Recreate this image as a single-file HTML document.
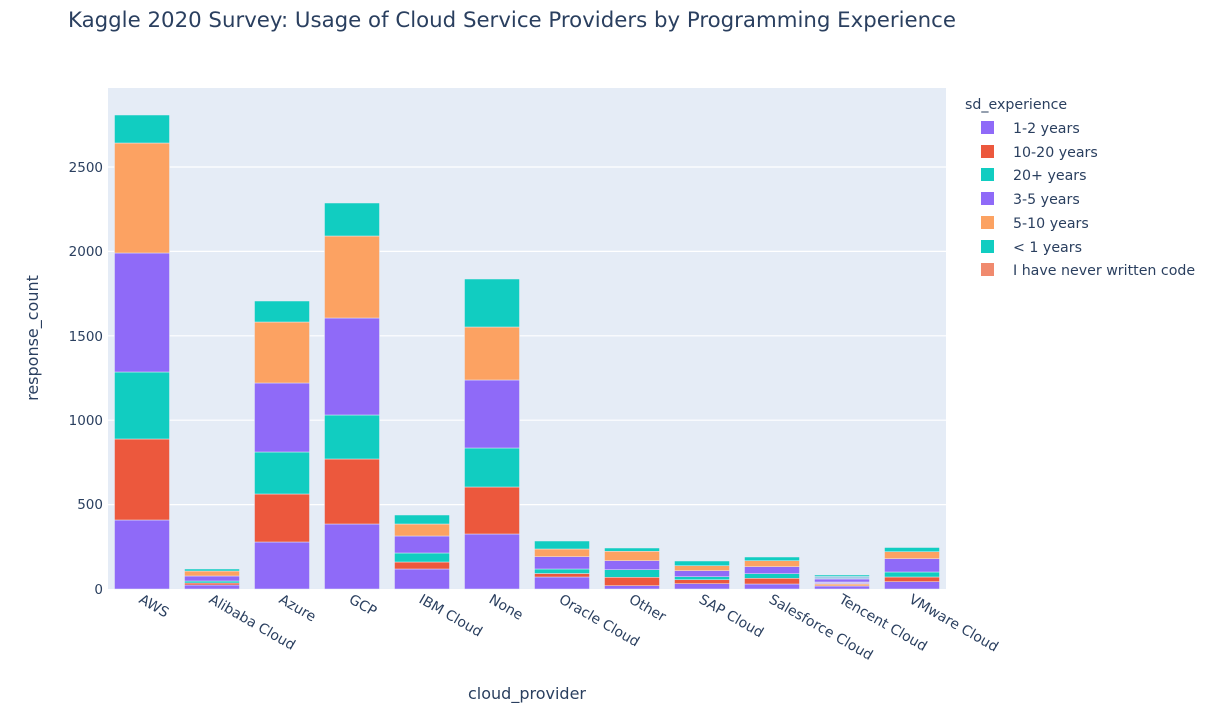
<!DOCTYPE html>
<html><head><meta charset="utf-8"><style>html,body{margin:0;padding:0;background:#fff}svg{display:block;font-family:"DejaVu Sans","Liberation Sans",sans-serif}</style></head><body>
<svg width="1219" height="716" xmlns="http://www.w3.org/2000/svg">
<text x="68" y="27" font-size="21.3" fill="#2a3f5f">Kaggle 2020 Survey: Usage of Cloud Service Providers by Programming Experience</text>
<rect x="108" y="88" width="838" height="501" fill="#e5ecf6"/>
<g stroke="#fff" stroke-width="1.2">
<line x1="108" x2="946" y1="504.6" y2="504.6"/><line x1="108" x2="946" y1="420.2" y2="420.2"/><line x1="108" x2="946" y1="335.8" y2="335.8"/><line x1="108" x2="946" y1="251.4" y2="251.4"/><line x1="108" x2="946" y1="167" y2="167"/>
</g>
<g font-size="13.5" fill="#2a3f5f" text-anchor="end">
<text x="103" y="594">0</text><text x="103" y="509">500</text><text x="103" y="425">1000</text><text x="103" y="341">1500</text><text x="103" y="256">2000</text><text x="103" y="172">2500</text>
</g>
<g stroke="#e5ecf6" stroke-width="0.5">
<rect x="114.5" y="520" width="55" height="69" fill="#8f6af8"/>
<rect x="114.5" y="439" width="55" height="81" fill="#ec583d"/>
<rect x="114.5" y="372" width="55" height="67" fill="#11cdc1"/>
<rect x="114.5" y="253" width="55" height="119" fill="#8f6af8"/>
<rect x="114.5" y="143" width="55" height="110" fill="#fca262"/>
<rect x="114.5" y="115" width="55" height="28" fill="#11cdc1"/>
<rect x="184.5" y="585" width="55" height="4" fill="#8f6af8"/>
<rect x="184.5" y="583" width="55" height="2" fill="#ec583d"/>
<rect x="184.5" y="581" width="55" height="2" fill="#11cdc1"/>
<rect x="184.5" y="576" width="55" height="5" fill="#8f6af8"/>
<rect x="184.5" y="571" width="55" height="5" fill="#fca262"/>
<rect x="184.5" y="569" width="55" height="2" fill="#11cdc1"/>
<rect x="254.5" y="542" width="55" height="47" fill="#8f6af8"/>
<rect x="254.5" y="494" width="55" height="48" fill="#ec583d"/>
<rect x="254.5" y="452" width="55" height="42" fill="#11cdc1"/>
<rect x="254.5" y="383" width="55" height="69" fill="#8f6af8"/>
<rect x="254.5" y="322" width="55" height="61" fill="#fca262"/>
<rect x="254.5" y="301" width="55" height="21" fill="#11cdc1"/>
<rect x="324.5" y="524" width="55" height="65" fill="#8f6af8"/>
<rect x="324.5" y="459" width="55" height="65" fill="#ec583d"/>
<rect x="324.5" y="415" width="55" height="44" fill="#11cdc1"/>
<rect x="324.5" y="318" width="55" height="97" fill="#8f6af8"/>
<rect x="324.5" y="236" width="55" height="82" fill="#fca262"/>
<rect x="324.5" y="203" width="55" height="33" fill="#11cdc1"/>
<rect x="394.5" y="569" width="55" height="20" fill="#8f6af8"/>
<rect x="394.5" y="562" width="55" height="7" fill="#ec583d"/>
<rect x="394.5" y="553" width="55" height="9" fill="#11cdc1"/>
<rect x="394.5" y="536" width="55" height="17" fill="#8f6af8"/>
<rect x="394.5" y="524" width="55" height="12" fill="#fca262"/>
<rect x="394.5" y="515" width="55" height="9" fill="#11cdc1"/>
<rect x="464.5" y="534" width="55" height="55" fill="#8f6af8"/>
<rect x="464.5" y="487" width="55" height="47" fill="#ec583d"/>
<rect x="464.5" y="448" width="55" height="39" fill="#11cdc1"/>
<rect x="464.5" y="380" width="55" height="68" fill="#8f6af8"/>
<rect x="464.5" y="327" width="55" height="53" fill="#fca262"/>
<rect x="464.5" y="279" width="55" height="48" fill="#11cdc1"/>
<rect x="534.5" y="577" width="55" height="12" fill="#8f6af8"/>
<rect x="534.5" y="573.5" width="55" height="3.5" fill="#ec583d"/>
<rect x="534.5" y="569" width="55" height="4.5" fill="#11cdc1"/>
<rect x="534.5" y="556.7" width="55" height="12.3" fill="#8f6af8"/>
<rect x="534.5" y="549" width="55" height="7.7" fill="#fca262"/>
<rect x="534.5" y="541" width="55" height="8" fill="#11cdc1"/>
<rect x="604.5" y="585.7" width="55" height="3.3" fill="#8f6af8"/>
<rect x="604.5" y="577.3" width="55" height="8.4" fill="#ec583d"/>
<rect x="604.5" y="569.7" width="55" height="7.6" fill="#11cdc1"/>
<rect x="604.5" y="560.7" width="55" height="9" fill="#8f6af8"/>
<rect x="604.5" y="551.3" width="55" height="9.4" fill="#fca262"/>
<rect x="604.5" y="548" width="55" height="3.3" fill="#11cdc1"/>
<rect x="674.5" y="583.7" width="55" height="5.3" fill="#8f6af8"/>
<rect x="674.5" y="579.7" width="55" height="4" fill="#ec583d"/>
<rect x="674.5" y="576.7" width="55" height="3" fill="#11cdc1"/>
<rect x="674.5" y="570.7" width="55" height="6" fill="#8f6af8"/>
<rect x="674.5" y="565.7" width="55" height="5" fill="#fca262"/>
<rect x="674.5" y="561" width="55" height="4.7" fill="#11cdc1"/>
<rect x="744.5" y="584" width="55" height="5" fill="#8f6af8"/>
<rect x="744.5" y="578.3" width="55" height="5.7" fill="#ec583d"/>
<rect x="744.5" y="573.7" width="55" height="4.6" fill="#11cdc1"/>
<rect x="744.5" y="566.7" width="55" height="7" fill="#8f6af8"/>
<rect x="744.5" y="560.7" width="55" height="6" fill="#fca262"/>
<rect x="744.5" y="557" width="55" height="3.7" fill="#11cdc1"/>
<rect x="814.5" y="586" width="55" height="3" fill="#8f6af8"/>
<rect x="814.5" y="584" width="55" height="2" fill="#fca262"/>
<rect x="814.5" y="582" width="55" height="2" fill="#c9b8f0"/>
<rect x="814.5" y="579" width="55" height="3" fill="#8f6af8"/>
<rect x="814.5" y="576.5" width="55" height="2.5" fill="#a9c9e8"/>
<rect x="814.5" y="575" width="55" height="1.5" fill="#11cdc1"/>
<rect x="884.5" y="581.7" width="55" height="7.3" fill="#8f6af8"/>
<rect x="884.5" y="577" width="55" height="4.7" fill="#ec583d"/>
<rect x="884.5" y="572" width="55" height="5" fill="#11cdc1"/>
<rect x="884.5" y="558.7" width="55" height="13.3" fill="#8f6af8"/>
<rect x="884.5" y="551.7" width="55" height="7" fill="#fca262"/>
<rect x="884.5" y="547.5" width="55" height="4.2" fill="#11cdc1"/>
</g>
<g font-size="14" fill="#2a3f5f">
<text transform="translate(138,602) rotate(30)">AWS</text>
<text transform="translate(208,602) rotate(30)">Alibaba Cloud</text>
<text transform="translate(278,602) rotate(30)">Azure</text>
<text transform="translate(348,602) rotate(30)">GCP</text>
<text transform="translate(418,602) rotate(30)">IBM Cloud</text>
<text transform="translate(488,602) rotate(30)">None</text>
<text transform="translate(558,602) rotate(30)">Oracle Cloud</text>
<text transform="translate(628,602) rotate(30)">Other</text>
<text transform="translate(698,602) rotate(30)">SAP Cloud</text>
<text transform="translate(768,602) rotate(30)">Salesforce Cloud</text>
<text transform="translate(838,602) rotate(30)">Tencent Cloud</text>
<text transform="translate(908,602) rotate(30)">VMware Cloud</text>
</g>
<text x="527" y="699" font-size="16" fill="#2a3f5f" text-anchor="middle">cloud_provider</text>
<text transform="translate(38,338) rotate(-90)" font-size="16" fill="#2a3f5f" text-anchor="middle">response_count</text>
<g font-size="14.2" fill="#2a3f5f">
<text x="965" y="109">sd_experience</text>
<rect x="981" y="121" width="13" height="13" fill="#8f6af8"/><text x="1013" y="133">1-2 years</text>
<rect x="981" y="145" width="13" height="13" fill="#ec583d"/><text x="1013" y="157">10-20 years</text>
<rect x="981" y="168" width="13" height="13" fill="#11cdc1"/><text x="1013" y="180">20+ years</text>
<rect x="981" y="192" width="13" height="13" fill="#8f6af8"/><text x="1013" y="204">3-5 years</text>
<rect x="981" y="216" width="13" height="13" fill="#fca262"/><text x="1013" y="228">5-10 years</text>
<rect x="981" y="240" width="13" height="13" fill="#11cdc1"/><text x="1013" y="252">&lt; 1 years</text>
<rect x="981" y="263" width="13" height="13" fill="#f08a6e"/><text x="1013" y="275">I have never written code</text>
</g>
</svg>
</body></html>
